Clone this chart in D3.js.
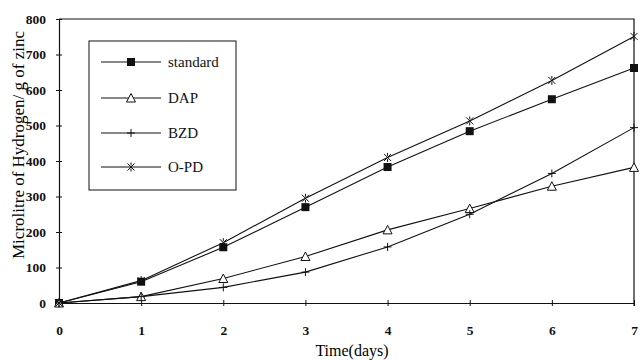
<!DOCTYPE html>
<html lang="en">
<head>
<meta charset="UTF-8">
<title>Hydrogen evolution</title>
<style>
    body { margin: 0; background: #fff; }
    .tick text { font: bold 13.5px "Liberation Serif", serif; }
    .legend text { font: 15px "Liberation Serif", serif; }
    .series { fill: none; stroke: #111; stroke-width: 1.1px; }
</style>
</head>
<body>
<script src="https://d3js.org/d3.v7.min.js"></script>
<script>
    // values
    const days = [0, 1, 2, 3, 4, 5, 6, 7];
    const standard = [0, 60, 157, 270, 383, 484, 574, 662];
    const dap = [0, 18, 69, 131, 206, 266, 329, 382];
    const bzd = [0, 18, 44, 87, 158, 250, 365, 494];
    const opd = [0, 63, 170, 295, 410, 513, 627, 751];
    const seriesNames = ["standard", "DAP", "BZD", "O-PD"];
    const yTicks = [0, 100, 200, 300, 400, 500, 600, 700, 800];

    const W = 640, H = 360;
    const margin = {top: 19, right: 6, bottom: 57, left: 59};

    const svg = d3.select("body").append("svg")
        .attr("width", W).attr("height", H);

    const x = d3.scaleLinear().domain([0, 7]).range([margin.left, W - margin.right]);
    const y = d3.scaleLinear().domain([0, 800]).range([H - margin.bottom, margin.top]);

    // frame: top and right lines
    svg.append("path")
        .attr("d", `M${x(0)},${y(800)}H${x(7)}V${y(0) + 3}`)
        .attr("fill", "none").attr("stroke", "#111").attr("stroke-width", 1.2);

    // x axis with crossing ticks
    const xAxis = svg.append("g")
        .attr("transform", `translate(0,${y(0)})`)
        .call(d3.axisBottom(x).tickValues(days).tickFormat(d3.format("d"))
            .tickSizeInner(3).tickSizeOuter(0).tickPadding(19));
    xAxis.selectAll(".tick line").attr("y1", -3);
    xAxis.select(".domain").attr("stroke-width", 1.2);

    const yAxis = svg.append("g")
        .attr("transform", `translate(${x(0)},0)`)
        .call(d3.axisLeft(y).tickValues(yTicks).tickSizeInner(3).tickSizeOuter(0).tickPadding(10));
    yAxis.selectAll(".tick line").attr("x1", 3);
    yAxis.select(".domain").attr("stroke-width", 1.2);
    svg.selectAll(".domain, .tick line").attr("stroke", "#111");
    svg.selectAll(".tick text").attr("fill", "#111");

    // axis titles
    svg.append("text")
        .attr("x", 352).attr("y", 356)
        .attr("text-anchor", "middle")
        .style("font", "16px 'Liberation Serif', serif")
        .text("Time(days)");

    svg.append("text")
        .attr("transform", `translate(24,145) rotate(-90)`)
        .attr("text-anchor", "middle")
        .style("font", "17px 'Liberation Serif', serif")
        .text("Microlitre of Hydrogen/ g of zinc");

    // markers
    const markers = {
        standard: g => g.append("rect").attr("x", -4).attr("y", -4)
            .attr("width", 8).attr("height", 8).attr("fill", "#111"),
        DAP: g => g.append("path").attr("d", "M0,-4.5L4.5,4H-4.5Z")
            .attr("fill", "#fff").attr("stroke", "#111").attr("stroke-width", 1),
        BZD: g => g.append("path").attr("d", "M-4,0H4M0,-4V4")
            .attr("stroke", "#111").attr("stroke-width", 1),
        "O-PD": g => g.append("path").attr("d", "M-3.5,-3.5L3.5,3.5M-3.5,3.5L3.5,-3.5M0,-4.5V-1.5M0,1.5V4.5")
            .attr("stroke", "#111").attr("stroke-width", 1)
    };

    const allSeries = [standard, dap, bzd, opd];
    const line = d3.line().x((d, i) => x(days[i])).y(d => y(d));

    allSeries.forEach((vals, k) => {
        svg.append("path").attr("class", "series").attr("d", line(vals));
    });
    allSeries.forEach((vals, k) => {
        vals.forEach((v, i) => {
            const g = svg.append("g").attr("transform", `translate(${x(days[i])},${y(v)})`);
            markers[seriesNames[k]](g);
        });
    });

    // legend
    const legend = svg.append("g").attr("class", "legend");
    legend.append("rect")
        .attr("x", 89).attr("y", 41).attr("width", 147).attr("height", 149)
        .attr("fill", "#fff").attr("stroke", "#111").attr("stroke-width", 1);
    const legendY = [62, 98, 133, 167];
    seriesNames.forEach((name, k) => {
        const row = legend.append("g").attr("transform", `translate(0,${legendY[k]})`);
        row.append("line").attr("x1", 101).attr("x2", 161)
            .attr("stroke", "#111").attr("stroke-width", 1.1);
        markers[name](row.append("g").attr("transform", "translate(131,0)"));
        row.append("text").attr("x", 168).attr("y", 5).attr("fill", "#111").text(name);
    });
</script>
</body>
</html>
